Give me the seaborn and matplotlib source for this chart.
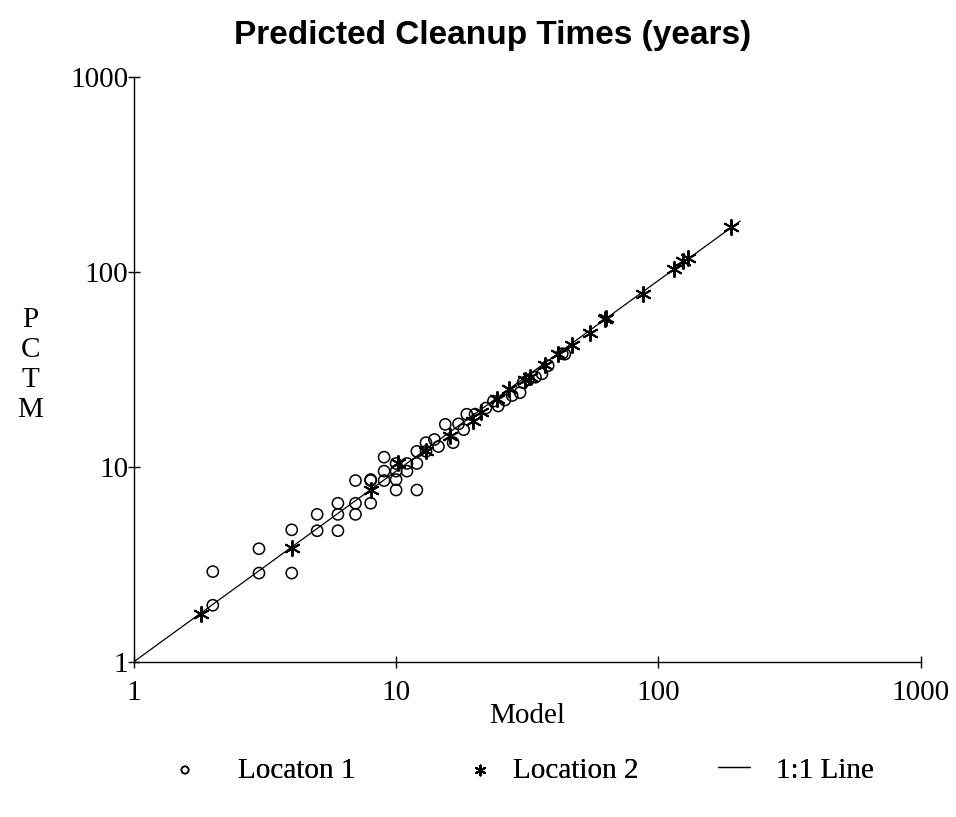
import matplotlib
matplotlib.use("Agg")
import matplotlib.pyplot as plt
import seaborn as sns

# Location 1 (open circles): Model vs PCTM
loc1_model = [2, 2, 3, 3, 4, 4, 5, 5, 6, 6, 6, 7, 7, 7, 8, 8, 8,
              9, 9, 9, 10, 10, 10, 10, 11, 11, 12, 12, 12, 13, 13, 14, 14.5,
              15.4, 16.5, 17.3, 18.1, 18.6, 20, 22, 23.5, 24.5, 26, 27.7, 29.7,
              30.5, 32, 34, 36, 38, 43, 44]
loc1_pctm = [1.95, 2.9, 3.8, 2.85, 4.75, 2.85, 5.7, 4.7, 6.5, 5.7, 4.7, 8.5, 6.5, 5.7, 8.5, 6.5, 8.6,
             11.2, 9.5, 8.5, 9.5, 8.6, 7.6, 10.4, 9.5, 10.4, 12.0, 10.4, 7.6, 12.0, 13.3, 13.8, 12.7,
             16.5, 13.3, 16.6, 15.5, 18.6, 18.6, 20, 21.7, 20.5, 22, 23.2, 24.0,
             27, 28, 28.8, 30, 33, 38, 37.8]

# Location 2 (asterisks)
loc2_model = [1.8, 4, 8, 10.2, 13, 16.1, 19.7, 21, 24.2, 27, 31, 32.5, 37, 41.5,
              46.8, 55, 62.5, 63, 87, 115, 124, 130, 189]
loc2_pctm = [1.75, 3.85, 7.6, 10.4, 12, 14.3, 17.1, 19, 22.2, 25, 28, 28.8, 33.3, 38,
             42, 48.7, 57, 58, 76.5, 103, 114, 118, 169]

# 1:1 line as drawn on the (slightly skewed) original
line_x = [1, 205]
line_y = [1, 182]

ticks = [1, 10, 100, 1000]
tick_labels = ["1", "10", "100", "1000"]

sns.set_theme(style="white")
plt.rcParams['font.family'] = ['Liberation Serif', 'DejaVu Serif']
plt.rcParams.update({'text.color': 'black', 'axes.labelcolor': 'black',
                     'xtick.color': 'black', 'ytick.color': 'black'})

fig = plt.figure(figsize=(9.56, 8.17), dpi=100)
ax = fig.add_axes([0.140, 0.19, 0.823, 0.716])
ax.set_xscale('log')
ax.set_yscale('log')

sns.lineplot(x=line_x, y=line_y, ax=ax, color='black', lw=0.9, label='1:1 Line')
sns.scatterplot(x=loc1_model, y=loc1_pctm, ax=ax, marker='o', facecolors='none',
                edgecolor='black', s=65, linewidth=1.1, label='Locaton 1', zorder=3)
sns.scatterplot(x=loc2_model, y=loc2_pctm, ax=ax, marker=(6, 2, 0), color='black',
                s=120, linewidth=1.4, label='Location 2', zorder=4)

ax.set_xlim(1, 1000)
ax.set_ylim(1, 1000)
ax.set_xticks(ticks)
ax.set_xticklabels(tick_labels)
ax.set_yticks(ticks)
ax.set_yticklabels(tick_labels)
ax.minorticks_off()
for s in ['top', 'right']:
    ax.spines[s].set_visible(False)
for s in ['left', 'bottom']:
    ax.spines[s].set_color('black')
    ax.spines[s].set_linewidth(1.0)
ax.tick_params(axis='both', which='major', direction='inout', length=8, width=1,
               colors='black', labelcolor='black', labelsize=21,
               bottom=True, left=True, top=False, right=False)
ax.tick_params(axis='y', pad=0)
ax.tick_params(axis='x', pad=9)
ax.grid(False)

ax.set_xlabel('Model', fontsize=21, labelpad=-2, color='black')
ax.set_ylabel('')

fig.text(0.032, 0.553, 'P\nC\nT\nM', ha='center', va='center', fontsize=21,
         linespacing=1.2, color='black')
fig.text(0.515, 0.957, 'Predicted Cleanup Times (years)', ha='center', va='center',
         fontsize=24, fontweight='bold', family=['Liberation Sans', 'DejaVu Sans'],
         color='black')

handles, labels = ax.get_legend_handles_labels()
ax.get_legend().remove()
hmap = dict(zip(labels, handles))

em = 21 * 100 / 72.0  # px per em
fw = 956.0
legend_specs = [
    ('Locaton 1', 169, 1.27),
    ('Location 2', 464, 0.58),
    ('1:1 Line', 718, 0.9),
]
for lab, x0, pad in legend_specs:
    leg = fig.legend([hmap[lab]], [lab], loc='center left',
                     bbox_to_anchor=(x0 / fw, 0.057), frameon=False,
                     fontsize=21, markerscale=0.65, handlelength=1.1,
                     handletextpad=pad, borderpad=0, borderaxespad=0)
    for t in leg.get_texts():
        t.set_color('black')
    fig.add_artist(leg)

fig.savefig('out.png', dpi=100, facecolor='white')
